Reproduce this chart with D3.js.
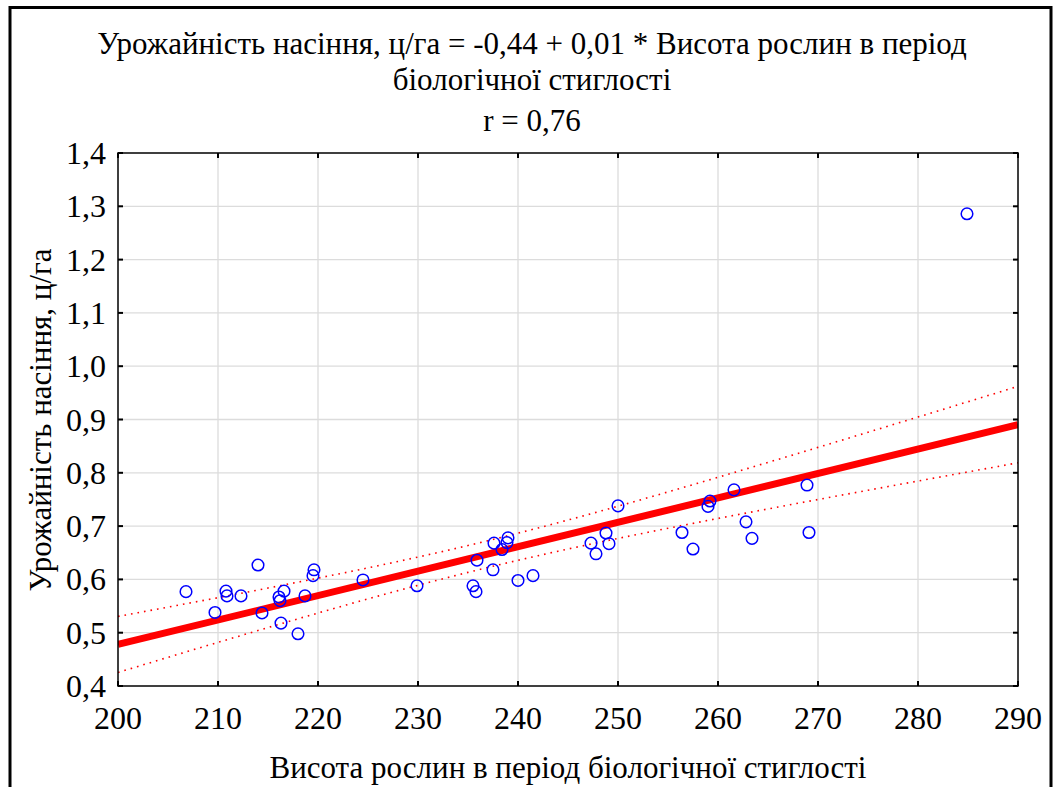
<!DOCTYPE html>
<html><head><meta charset="utf-8">
<script src="https://cdn.jsdelivr.net/npm/d3@7"></script>
<style>body{margin:0;background:#fff}svg{display:block}text{font-family:"Liberation Serif","Times New Roman",serif;fill:#000}</style>
</head><body>
<svg id="c" width="1054" height="787"></svg>
<script>
const heights = [206.8,209.7,210.8,210.9,212.3,214.0,214.4,216.1,216.6,216.2,216.3,218.0,218.7,219.6,219.5,224.5,229.9,
  235.5,235.8,235.9,237.5,237.6,238.4,238.9,239.0,240.0,241.5,247.3,247.8,248.8,249.1,250.0,256.4,257.5,
  259.0,259.2,261.6,262.8,263.4,268.9,269.1,284.9];
const yields = [0.577,0.538,0.578,0.569,0.569,0.627,0.537,0.567,0.578,0.56,0.518,0.498,0.569,0.618,0.607,0.599,0.588,
  0.588,0.577,0.636,0.618,0.668,0.656,0.669,0.678,0.598,0.607,0.668,0.648,0.687,0.667,0.738,0.688,0.657,
  0.737,0.747,0.768,0.708,0.677,0.777,0.688,1.286];
const xTicks = [200,210,220,230,240,250,260,270,280,290];
const yTicks = [0.4,0.5,0.6,0.7,0.8,0.9,1.0,1.1,1.2,1.3,1.4];
const titleLines = ["Урожайність насіння, ц/га = -0,44 + 0,01 * Висота рослин в період","біологічної стиглості","r = 0,76"];
const xTitle = "Висота рослин в період біологічної стиглості";
const yTitle = "Урожайність насіння, ц/га";

const svg = d3.select("#c");
const L=118, R=1018, T=153, B=686;
const x = d3.scaleLinear().domain([200,290]).range([L,R]);
const y = d3.scaleLinear().domain([0.4,1.4]).range([B,T]);
const fmt = v => d3.format(".1f")(v).replace(".",",");

// frame
svg.append("rect").attr("x",10).attr("y",7.5).attr("width",1041).attr("height",800)
  .attr("fill","none").attr("stroke","#000").attr("stroke-width",3);

// grid
const g = svg.append("g");
g.selectAll(".gx").data(xTicks.slice(1,-1)).join("line")
  .attr("x1",d=>x(d)).attr("x2",d=>x(d)).attr("y1",T).attr("y2",B)
  .attr("stroke","#dcdcdc").attr("stroke-width",1.3);
g.selectAll(".gy").data(yTicks.slice(1,-1)).join("line")
  .attr("y1",d=>y(d)).attr("y2",d=>y(d)).attr("x1",L).attr("x2",R)
  .attr("stroke","#dcdcdc").attr("stroke-width",1.3);

// regression
const n = heights.length;
const mx = d3.mean(heights), my = d3.mean(yields);
let sxx=0, sxy=0;
for(let i=0;i<n;i++){sxx+=(heights[i]-mx)**2; sxy+=(heights[i]-mx)*(yields[i]-my);}
const b = sxy/sxx, a = my-b*mx;
let sse=0; for(let i=0;i<n;i++){sse+=(yields[i]-a-b*heights[i])**2;}
const s = Math.sqrt(sse/(n-2)), tcrit=2.021;
const xs = d3.range(200,290.01,1);
const ci = xv => tcrit*s*Math.sqrt(1/n+(xv-mx)**2/sxx);

svg.append("clipPath").attr("id","pc").append("rect").attr("x",L).attr("y",T).attr("width",R-L).attr("height",B-T);
const pl = svg.append("g").attr("clip-path","url(#pc)");
const line = d3.line().x(d=>x(d[0])).y(d=>y(d[1]));
pl.append("path").datum(xs.map(v=>[v,a+b*v+ci(v)])).attr("d",line).attr("fill","none")
  .attr("stroke","#ff0000").attr("stroke-width",1.6).attr("stroke-dasharray","1.6,5");
pl.append("path").datum(xs.map(v=>[v,a+b*v-ci(v)])).attr("d",line).attr("fill","none")
  .attr("stroke","#ff0000").attr("stroke-width",1.6).attr("stroke-dasharray","1.6,5");
pl.append("path").datum([[200,a+b*200],[290,a+b*290]]).attr("d",line).attr("fill","none")
  .attr("stroke","#ff0000").attr("stroke-width",7);

// points
svg.append("g").selectAll("circle").data(heights.map((h,i)=>[h,yields[i]])).join("circle")
  .attr("cx",d=>x(d[0])).attr("cy",d=>y(d[1])).attr("r",5.8)
  .attr("fill","none").attr("stroke","#0000ff").attr("stroke-width",1.5);

// axes box
svg.append("rect").attr("x",L).attr("y",T).attr("width",R-L).attr("height",B-T)
  .attr("fill","none").attr("stroke","#000").attr("stroke-width",1.5);
const tk = svg.append("g").attr("stroke","#000").attr("stroke-width",2);
xTicks.forEach(v=>{
  tk.append("line").attr("x1",x(v)).attr("x2",x(v)).attr("y1",B).attr("y2",B-5);
  tk.append("line").attr("x1",x(v)).attr("x2",x(v)).attr("y1",T).attr("y2",T+5);
});
yTicks.forEach(v=>{
  tk.append("line").attr("y1",y(v)).attr("y2",y(v)).attr("x1",L).attr("x2",L+5);
  tk.append("line").attr("y1",y(v)).attr("y2",y(v)).attr("x1",R).attr("x2",R-5);
});

// tick labels
svg.append("g").selectAll("text").data(xTicks).join("text")
  .attr("x",d=>x(d)).attr("y",729).attr("text-anchor","middle").attr("font-size",32).text(d=>d);
svg.append("g").selectAll("text").data(yTicks).join("text")
  .attr("x",106).attr("y",d=>y(d)+11).attr("text-anchor","end").attr("font-size",32).text(fmt);

// titles
const tys=[54,90,131];
titleLines.forEach((t,i)=>svg.append("text").attr("x",532).attr("y",tys[i]).attr("text-anchor","middle")
  .attr("font-size",31).text(t));
svg.append("text").attr("x",568).attr("y",778).attr("text-anchor","middle").attr("font-size",31).text(xTitle);
svg.append("text").attr("transform","translate(51,420) rotate(-90)").attr("text-anchor","middle")
  .attr("font-size",31).text(yTitle);
</script>
</body></html>
